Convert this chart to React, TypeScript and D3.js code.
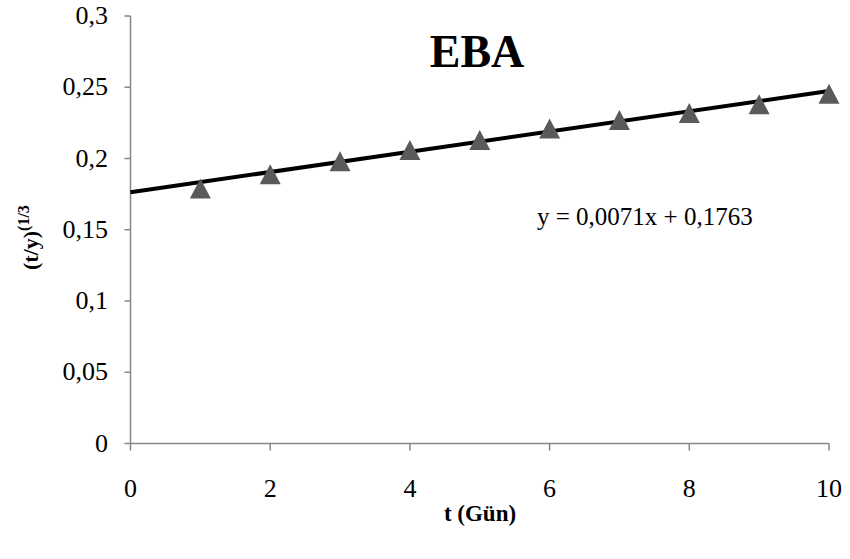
import React from "react";
import * as d3 from "d3";

const days = [1, 2, 3, 4, 5, 6, 7, 8, 9, 10];
const values = [0.179, 0.189, 0.198, 0.206, 0.213, 0.221, 0.227, 0.232, 0.238, 0.2455];
const slope = 0.0071;
const intercept = 0.1763;
const xTicks = [0, 2, 4, 6, 8, 10];
const yTicks = [0, 0.05, 0.1, 0.15, 0.2, 0.25, 0.3];
const title = "EBA";
const equation = "y = 0,0071x + 0,1763";
const xLabel = "t (Gün)";

const W = 850;
const H = 559;
const left = 130.5;
const right = 829;
const top = 16;
const bottom = 443.5;

export default function App() {
  React.useEffect(() => {
    document.body.style.margin = "0";
  }, []);
  const x = d3.scaleLinear().domain([0, 10]).range([left, right]);
  const y = d3.scaleLinear().domain([0, 0.3]).range([bottom, top]);
  const fmt = (v: number) => String(v).replace(".", ",");
  const line = d3
    .line<number>()
    .x((d) => x(d))
    .y((d) => y(intercept + slope * d));
  const tri = (cx: number, cy: number) => {
    const w = 21, h = 20;
    return `M${cx},${cy - h / 2}L${cx + w / 2},${cy + h / 2}L${cx - w / 2},${cy + h / 2}Z`;
  };
  const serif = "'Liberation Serif', 'Times New Roman', serif";
  const axisColor = "#868686";
  return (
    <svg width={W} height={H} style={{ display: "block", background: "#fff" }} fontFamily={serif}>
      {/* axes */}
      <line x1={left} x2={left} y1={top} y2={bottom} stroke={axisColor} strokeWidth={1.5} />
      <line x1={left} x2={right} y1={bottom} y2={bottom} stroke={axisColor} strokeWidth={1.5} />
      {yTicks.map((t) => (
        <g key={"y" + t}>
          <line x1={left - 6} x2={left} y1={y(t)} y2={y(t)} stroke={axisColor} strokeWidth={1.5} />
          <text x={108} y={y(t) + 8} textAnchor="end" fontSize={26} fill="#000">
            {fmt(t)}
          </text>
        </g>
      ))}
      {xTicks.map((t) => (
        <g key={"x" + t}>
          <line x1={x(t)} x2={x(t)} y1={bottom} y2={bottom + 7} stroke={axisColor} strokeWidth={1.5} />
          <text x={x(t)} y={497} textAnchor="middle" fontSize={26} fill="#000">
            {fmt(t)}
          </text>
        </g>
      ))}
      {/* trendline */}
      <path d={line([0, 10]) || ""} stroke="#000" strokeWidth={4} fill="none" />
      {/* markers */}
      {days.map((d, i) => (
        <path key={d} d={tri(x(d), y(values[i]))} fill="#5a5a5a" />
      ))}
      {/* title */}
      <text x={477} y={67} textAnchor="middle" fontSize={46} fontWeight="bold" fill="#000">
        {title}
      </text>
      <text x={537} y={225} fontSize={25} fill="#000">
        {equation}
      </text>
      <text x={480} y={521} textAnchor="middle" fontSize={23} fontWeight="bold" fill="#000">
        {xLabel}
      </text>
      <g transform="translate(38,270) rotate(-90)">
        <text x={0} y={0} fontSize={22} fontWeight="bold" fill="#000">
          (t/y)
          <tspan fontSize={16} dy={-9}>(1/3</tspan>
        </text>
      </g>
    </svg>
  );
}
